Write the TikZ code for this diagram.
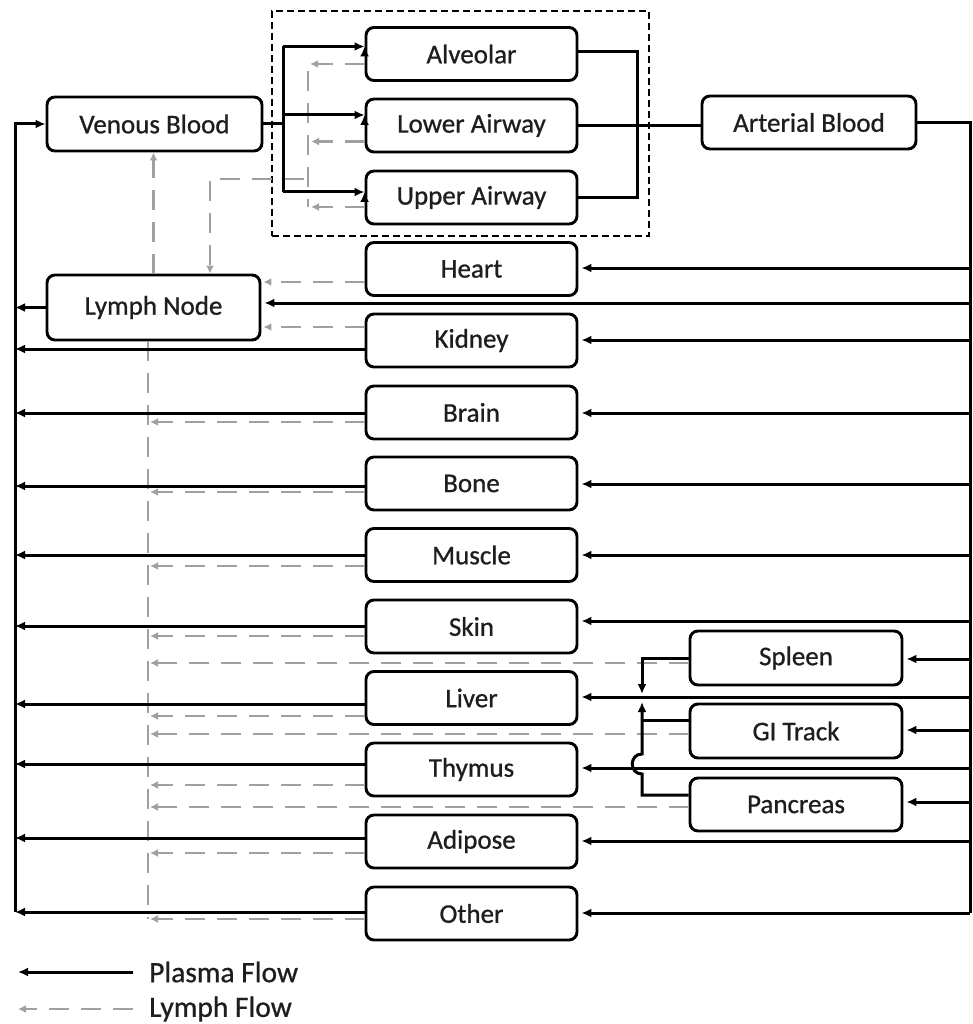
\documentclass[tikz,border=0pt]{standalone}
\usepackage{fontspec}
\newfontfamily\lblfont{Carlito}[FakeBold=0.8]
\usetikzlibrary{arrows.meta,calc}
\definecolor{lgray}{RGB}{160,160,160}
\definecolor{txt}{RGB}{30,30,30}
\tikzset{
  box/.style={draw, line width=2.9pt, rounded corners=8pt, minimum width=211pt, minimum height=53pt, inner sep=0pt, fill=white, text=txt, font=\lblfont\fontsize{27}{31}\selectfont},
  pl/.style={line width=3pt, draw=black},
  pa/.style={pl, -{Latex[length=10pt,width=9pt]}},
  ly/.style={line width=2.5pt, draw=lgray, dash pattern=on 20pt off 12pt},
  la/.style={ly, -{Latex[length=8pt,width=8pt]}},
  legtext/.style={anchor=west, inner sep=0pt, text=txt, font=\lblfont\fontsize{29.5}{33}\selectfont},
}
\begin{document}
\begin{tikzpicture}[x=1pt,y=-1pt]
\useasboundingbox (0,0) rectangle (972,1024);
% guide coordinates
\coordinate (Lx) at (15,0);
\coordinate (Rx) at (970,0);
\coordinate (Mx) at (148,0);
\coordinate (bx) at (283,0);
\coordinate (vx) at (308,0);
\coordinate (jx) at (642,0);
\coordinate (Lbot) at (15,911.5);
\coordinate (Rbot) at (970,913);
\coordinate (Mbot) at (148,919);

% lung group box
\node[draw, line width=2.6pt, dash pattern=on 7pt off 4pt, minimum width=377pt, minimum height=225pt, inner sep=0pt] (lungbox) at (460.5,123.5) {};

% nodes
\node[box, minimum width=215pt, minimum height=54pt] (venous) at (154.5,124) {Venous Blood};
\node[box, minimum width=213pt, minimum height=65pt] (ln) at (153.5,307.5) {Lymph Node};
\node[box, minimum width=214pt] (art) at (809,122.5) {Arterial Blood};
\node[box] (alv) at (471.5,54) {Alveolar};
\node[box] (low) at (471.5,125.5) {Lower Airway};
\node[box] (up) at (471.5,197.5) {Upper Airway};
\node[box] (heart) at (471.5,269) {Heart};
\node[box] (kidney) at (471.5,340.5) {Kidney};
\node[box] (brain) at (471.5,412.5) {Brain};
\node[box] (bone) at (471.5,483.5) {Bone};
\node[box] (muscle) at (471.5,555) {Muscle};
\node[box] (skin) at (471.5,626.5) {Skin};
\node[box] (liver) at (471.5,698) {Liver};
\node[box] (thymus) at (471.5,769.5) {Thymus};
\node[box] (adipose) at (471.5,841.5) {Adipose};
\node[box] (other) at (471.5,913.5) {Other};
\node[box, minimum width=212pt, minimum height=54pt] (spleen) at (796,658) {Spleen};
\node[box, minimum width=212pt, minimum height=54pt] (gi) at (796,731) {GI Track};
\node[box, minimum width=212pt] (pancreas) at (796,804.5) {Pancreas};

% lymph (gray dashed) connectors
\draw[la] ($(alv.west)+(0,10)$) coordinate (t) -- ($(t -| vx)+(2,0)$);
\draw[ly] ($(alv.west)+(0,10)$) coordinate (t) -- (t -| vx) -- ($(up.west -| vx)+(0,9.5)$);
\draw[la] ($(low.west)+(0,16)$) coordinate (t) -- ($(t -| vx)+(3,0)$);
\draw[la] ($(up.west)+(0,9.5)$) coordinate (t) -- ($(t -| vx)+(3,0)$);
\coordinate (lx) at (210,179);
\draw[la] ($(vx |- lx)+(-4,0)$) -- (lx) -- (lx |- ln.north);
\draw[la] (ln.north) -- (ln.north |- venous.south);
\draw[la] ($(heart.west)+(0,13)$) coordinate (t) -- ($(t -| ln.east)+(2,0)$);
\draw[la] ($(kidney.west)+(0,-13.5)$) coordinate (t) -- ($(t -| ln.east)+(2,0)$);
\draw[ly] (ln.south -| Mx) -- (Mbot);
\foreach \n/\o in {brain/9.5, bone/8.5, muscle/11, skin/9.5, liver/18, thymus/15.5, adipose/11.5, other/5.5, spleen/5, gi/3, pancreas/2.5}{
  \draw[la] ($(\n.west)+(0,\o)$) coordinate (t) -- ($(t -| Mx)+(2,0)$);
}

% plasma (black) connectors
\draw[pa] (Lbot) |- (venous.west);
\draw[pl] (venous.east) -- (venous.east -| bx);
\draw[pl] ($(alv.west -| bx)+(0,-7.5)$) -- ($(up.west -| bx)+(0,-5.5)$);
\draw[pa] ($(alv.west)+(0,-7.5)$) coordinate (t); \draw[pa] (t -| bx) -- (t);
\draw[pa] ($(low.west)+(0,-10.5)$) coordinate (t); \draw[pa] (t -| bx) -- (t);
\draw[pa] ($(up.west)+(0,-5.5)$) coordinate (t); \draw[pa] (t -| bx) -- (t);
\draw[pl] ($(alv.east)+(0,-2)$) -| ($(up.east)+(59,0)$) -- (up.east);
\draw[pl] (low.east) -- (low.east -| art.west);
\draw[pl] (art.east) -| (Rbot);

\draw[pa] (ln.west) -- (ln.west -| Lx);
\foreach \n/\o in {kidney/8.5, brain/0.5, bone/2.5, muscle/0, skin/-0.5, liver/6, thymus/-5.5, adipose/-3.5, other/-1.5}{
  \draw[pa] ($(\n.west)+(0,\o)$) coordinate (t) -- (t -| Lx);
}
\foreach \n/\o in {heart/-1, ln/-4.5, kidney/-0.5, brain/0.5, bone/0.5, muscle/0, skin/-5.5, liver/-1, thymus/-1.5, adipose/-0.5, other/-0.5, spleen/1, gi/-1, pancreas/-2.5}{
  \path ($(\n.east)+(0,\o)$) coordinate (t);
  \draw[pa] (t -| Rx) -- ($(t)+(3,0)$);
}

% spleen / GI / pancreas to liver
\draw[pa] (spleen.west) -| ($(jx |- liver.east)+(0,-4)$);
\draw[pl] ($(gi.west)+(0,-11)$) coordinate (t) -- (t -| jx);
\draw[pa] ($(pancreas.west)+(0,-9.5)$) coordinate (t) -- (t -| jx) -- ($(jx |- thymus.east)+(0,4.5)$)
  .. controls ($(jx |- thymus.east)+(-13,4.5)$) and ($(jx |- thymus.east)+(-13,-15.5)$) .. ($(jx |- thymus.east)+(0,-15.5)$)
  -- ($(jx |- liver.east)+(0,4)$);

% legend
\node[legtext] (lgp) at (149,972) {Plasma Flow};
\node[legtext] (lgl) at (149,1009) {Lymph Flow};
\coordinate (lp1) at (133,972); \coordinate (lp2) at (18,972);
\coordinate (ll1) at (133,1009); \coordinate (ll2) at (18,1009);
\draw[pa] (lp1) -- (lp2);
\draw[la] (ll1) -- (ll2);
\end{tikzpicture}
\end{document}
